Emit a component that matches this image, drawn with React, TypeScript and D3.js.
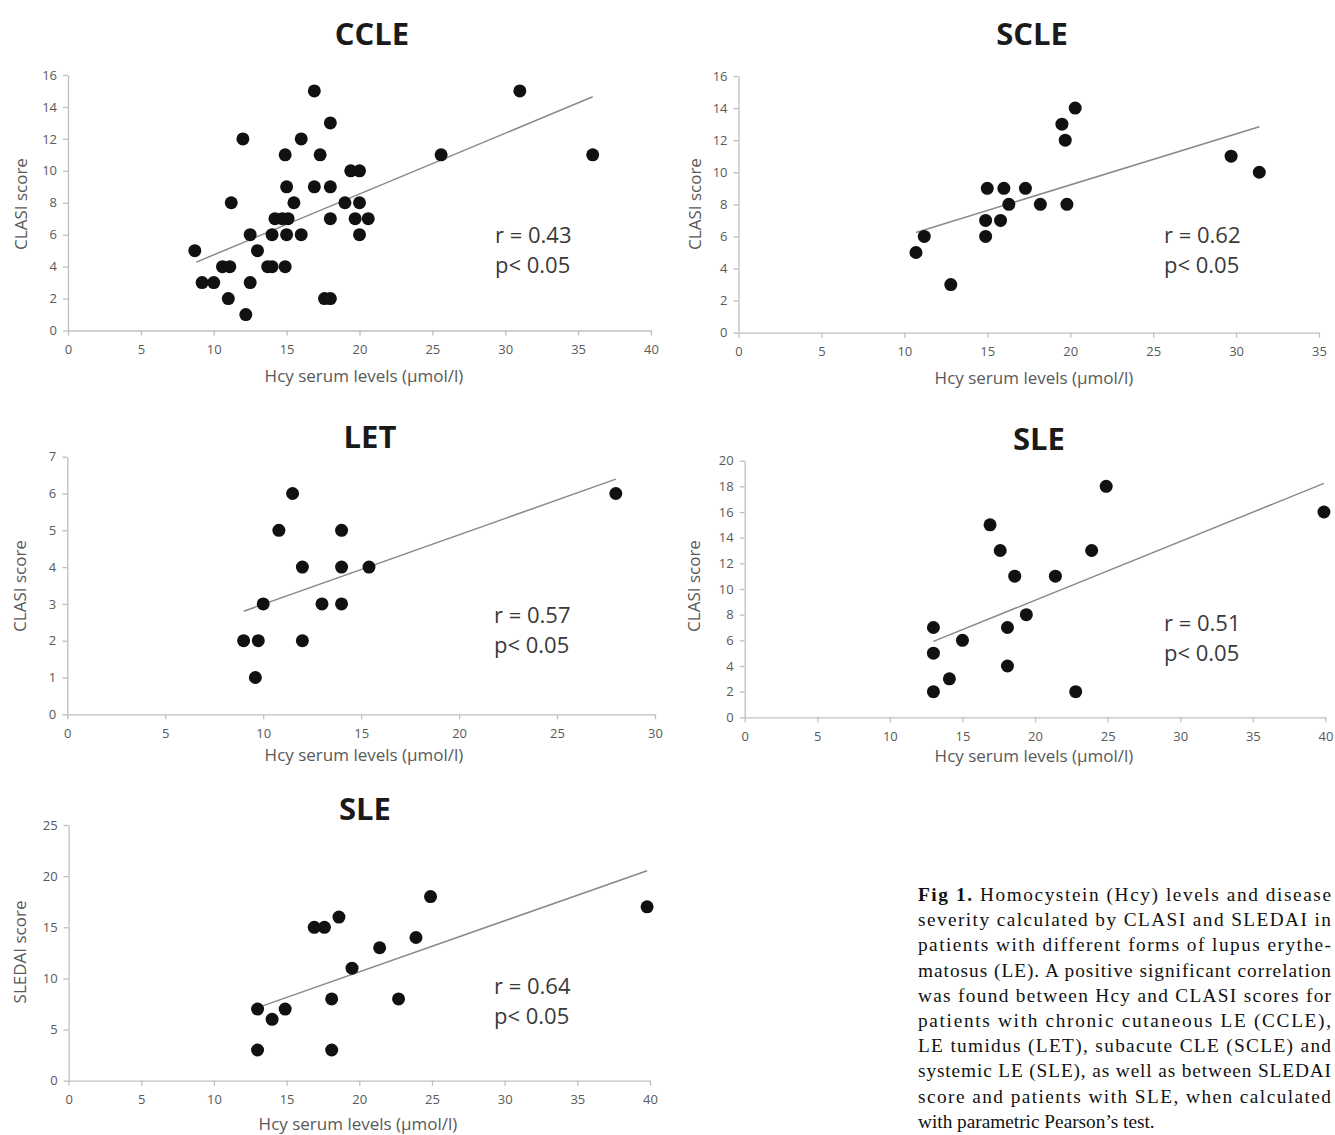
import React, { useEffect, useRef } from 'react';
import * as d3 from 'd3';

// values (Hcy in µmol/l, score)
const ccleHcy = [8.7, 9.2, 10.0, 10.6, 11.1, 11.0, 11.2, 12.0, 12.2, 12.5, 12.5, 13.0, 13.7, 14.0, 14.0, 14.2, 14.7, 15.1, 14.9, 15.0, 15.0, 14.9, 15.5, 16.0, 16.0, 16.9, 16.9, 17.3, 17.6, 18.0, 18.0, 18.0, 18.0, 19.0, 19.4, 20.0, 20.0, 19.7, 20.0, 20.6, 25.6, 31.0, 36.0];
const ccleClasi = [5, 3, 3, 4, 4, 2, 8, 12, 1, 6, 3, 5, 4, 4, 6, 7, 7, 7, 4, 6, 9, 11, 8, 12, 6, 15, 9, 11, 2, 2, 13, 9, 7, 8, 10, 10, 8, 7, 6, 7, 11, 15, 11];
const ccleTrend = [[8.8, 4.28], [36.0, 14.64]];

const scleHcy = [10.7, 11.2, 12.8, 14.9, 14.9, 15.0, 15.8, 16.0, 16.3, 17.3, 18.2, 19.5, 19.7, 19.8, 20.3, 29.7, 31.4];
const scleClasi = [5, 6, 3, 7, 6, 9, 7, 9, 8, 9, 8, 13, 12, 8, 14, 11, 10];
const scleTrend = [[10.7, 6.25], [31.4, 12.84]];

const letHcy = [9.0, 9.75, 9.6, 10.0, 10.8, 11.5, 12.0, 12.0, 13.0, 14.0, 14.0, 14.0, 15.4, 28.0];
const letClasi = [2, 2, 1, 3, 5, 6, 4, 2, 3, 5, 4, 3, 4, 6];
const letTrend = [[9.0, 2.8], [28.0, 6.39]];

const sleHcy = [13.0, 13.0, 13.0, 14.1, 15.0, 16.9, 17.6, 18.1, 18.1, 18.6, 19.4, 21.4, 22.8, 23.9, 24.9, 39.9];
const sleClasi = [7, 5, 2, 3, 6, 15, 13, 7, 4, 11, 8, 11, 2, 13, 18, 16];
const sleTrend = [[13.0, 5.92], [39.9, 18.23]];

const sledaiHcy = [13.0, 13.0, 14.0, 14.9, 16.9, 17.6, 18.6, 18.1, 18.1, 19.5, 21.4, 22.7, 23.9, 24.9, 39.8];
const sledaiScore = [7, 3, 6, 7, 15, 15, 16, 8, 3, 11, 13, 8, 14, 18, 17];
const sledaiTrend = [[13.2, 7.24], [39.8, 20.53]];

const captionLines = [
  'Homocystein (Hcy) levels and disease',
  'severity calculated by CLASI and SLEDAI in',
  'patients with different forms of lupus erythe-',
  'matosus (LE). A positive significant correlation',
  'was found between Hcy and CLASI scores for',
  'patients with chronic cutaneous LE (CCLE),',
  'LE tumidus (LET), subacute CLE (SCLE) and',
  'systemic LE (SLE), as well as between SLEDAI',
  'score and patients with SLE, when calculated',
  'with parametric Pearson\u2019s test.',
];

const panels = [
  { title: 'CCLE', xs: ccleHcy, ys: ccleClasi, trend: ccleTrend, r: '0.43', yLabel: 'CLASI score', xMax: 40, yMax: 16, yStep: 2,
    left: 68, right: 651, top: 75, bottom: 330.5, titleX: 372, titleY: 45, statX: 495, statY: 243, xLabelX: 364, xLabelY: 382, yLabelX: 27, yLabelY: 204 },
  { title: 'SCLE', xs: scleHcy, ys: scleClasi, trend: scleTrend, r: '0.62', yLabel: 'CLASI score', xMax: 35, yMax: 16, yStep: 2,
    left: 738.5, right: 1319, top: 76, bottom: 332.7, titleX: 1032, titleY: 45, statX: 1164, statY: 243, xLabelX: 1034, xLabelY: 384, yLabelX: 701, yLabelY: 204 },
  { title: 'LET', xs: letHcy, ys: letClasi, trend: letTrend, r: '0.57', yLabel: 'CLASI score', xMax: 30, yMax: 7, yStep: 1,
    left: 67.3, right: 655, top: 456.7, bottom: 714.3, titleX: 370, titleY: 448, statX: 494, statY: 623, xLabelX: 364, xLabelY: 761, yLabelX: 26, yLabelY: 586 },
  { title: 'SLE', xs: sleHcy, ys: sleClasi, trend: sleTrend, r: '0.51', yLabel: 'CLASI score', xMax: 40, yMax: 20, yStep: 2,
    left: 744.7, right: 1325.4, top: 460.7, bottom: 717.3, titleX: 1039, titleY: 450, statX: 1164, statY: 631, xLabelX: 1034, xLabelY: 762, yLabelX: 700, yLabelY: 586 },
  { title: 'SLE', xs: sledaiHcy, ys: sledaiScore, trend: sledaiTrend, r: '0.64', yLabel: 'SLEDAI score', xMax: 40, yMax: 25, yStep: 5,
    left: 68.6, right: 650, top: 825, bottom: 1080.7, titleX: 365, titleY: 820, statX: 494, statY: 994, xLabelX: 358, xLabelY: 1130, yLabelX: 26, yLabelY: 952 },
];

const sans = '"Open Sans", "Noto Sans", sans-serif';
const axisGrey = '#bfbfbf';
const tickGrey = '#595959';

const App = () => {
  const ref = useRef<SVGSVGElement>(null);

  useEffect(() => {
    const svg = d3.select(ref.current);
    svg.selectAll('*').remove();

    panels.forEach((p) => {
      const g = svg.append('g');
      const x = d3.scaleLinear().domain([0, p.xMax]).range([p.left, p.right]);
      const y = d3.scaleLinear().domain([0, p.yMax]).range([p.bottom, p.top]);

      const xAxis = g
        .append('g')
        .attr('transform', `translate(0,${p.bottom})`)
        .call(
          d3.axisBottom(x)
            .tickValues(d3.range(0, p.xMax + 0.01, 5))
            .tickFormat(d3.format('d'))
            .tickSize(5)
            .tickSizeOuter(0)
            .tickPadding(9)
        );
      const yAxis = g
        .append('g')
        .attr('transform', `translate(${p.left},0)`)
        .call(
          d3.axisLeft(y)
            .tickValues(d3.range(0, p.yMax + 0.01, p.yStep))
            .tickFormat(d3.format('d'))
            .tickSize(5)
            .tickSizeOuter(0)
            .tickPadding(6)
        );

      [xAxis, yAxis].forEach((a) => {
        a.select('.domain').attr('stroke', axisGrey).attr('stroke-width', 1.3);
        a.selectAll('.tick line').attr('stroke', axisGrey).attr('stroke-width', 1.3);
        a.selectAll('.tick text').attr('fill', tickGrey).attr('font-size', 13).attr('font-family', sans);
      });

      // trend line
      g.append('line')
        .attr('x1', x(p.trend[0][0]))
        .attr('y1', y(p.trend[0][1]))
        .attr('x2', x(p.trend[1][0]))
        .attr('y2', y(p.trend[1][1]))
        .attr('stroke', '#8a8a8a')
        .attr('stroke-width', 1.5);

      g.selectAll('circle.pt')
        .data(p.xs.map((v, i) => [v, p.ys[i]]))
        .enter()
        .append('circle')
        .attr('class', 'pt')
        .attr('cx', (d) => x(d[0]))
        .attr('cy', (d) => y(d[1]))
        .attr('r', 6.5)
        .attr('fill', '#111');

      g.append('text')
        .attr('x', p.titleX)
        .attr('y', p.titleY)
        .attr('text-anchor', 'middle')
        .attr('font-family', sans)
        .attr('font-weight', 700)
        .attr('font-size', 31)
        .attr('fill', '#1a1a1a')
        .text(p.title);

      g.append('text')
        .attr('x', p.xLabelX)
        .attr('y', p.xLabelY)
        .attr('text-anchor', 'middle')
        .attr('font-family', sans)
        .attr('font-size', 17)
        .attr('fill', tickGrey)
        .text('Hcy serum levels (\u00b5mol/l)');

      g.append('text')
        .attr('transform', `translate(${p.yLabelX},${p.yLabelY}) rotate(-90)`)
        .attr('text-anchor', 'middle')
        .attr('font-family', sans)
        .attr('font-size', 17)
        .attr('fill', tickGrey)
        .text(p.yLabel);

      g.append('text')
        .attr('x', p.statX)
        .attr('y', p.statY)
        .attr('font-family', sans)
        .attr('font-size', 22)
        .attr('fill', '#3a3a3a')
        .text(`r = ${p.r}`);
      g.append('text')
        .attr('x', p.statX)
        .attr('y', p.statY + 30)
        .attr('font-family', sans)
        .attr('font-size', 22)
        .attr('fill', '#3a3a3a')
        .text('p< 0.05');
    });

    // figure caption, justified to the right edge of the page
    const cap = svg
      .append('g')
      .attr('font-family', '"Liberation Serif", "Times New Roman", serif')
      .attr('font-size', 19.3)
      .attr('fill', '#111');
    captionLines.forEach((line, i) => {
      const t = cap.append('text').attr('x', 918).attr('y', 901 + i * 25.2);
      if (i === 0) {
        t.append('tspan').attr('font-weight', 700).text('Fig 1.');
        t.append('tspan').text(' ' + line);
      } else {
        t.text(line);
      }
      if (i < captionLines.length - 1) {
        t.attr('textLength', 413).attr('lengthAdjust', 'spacing');
      }
    });
  }, []); // eslint-disable-line react-hooks/exhaustive-deps

  return (
    <svg
      ref={ref}
      width="1335"
      height="1135"
      style={{ position: 'absolute', left: 0, top: 0, background: '#fff' }}
    ></svg>
  );
};

export default App;
